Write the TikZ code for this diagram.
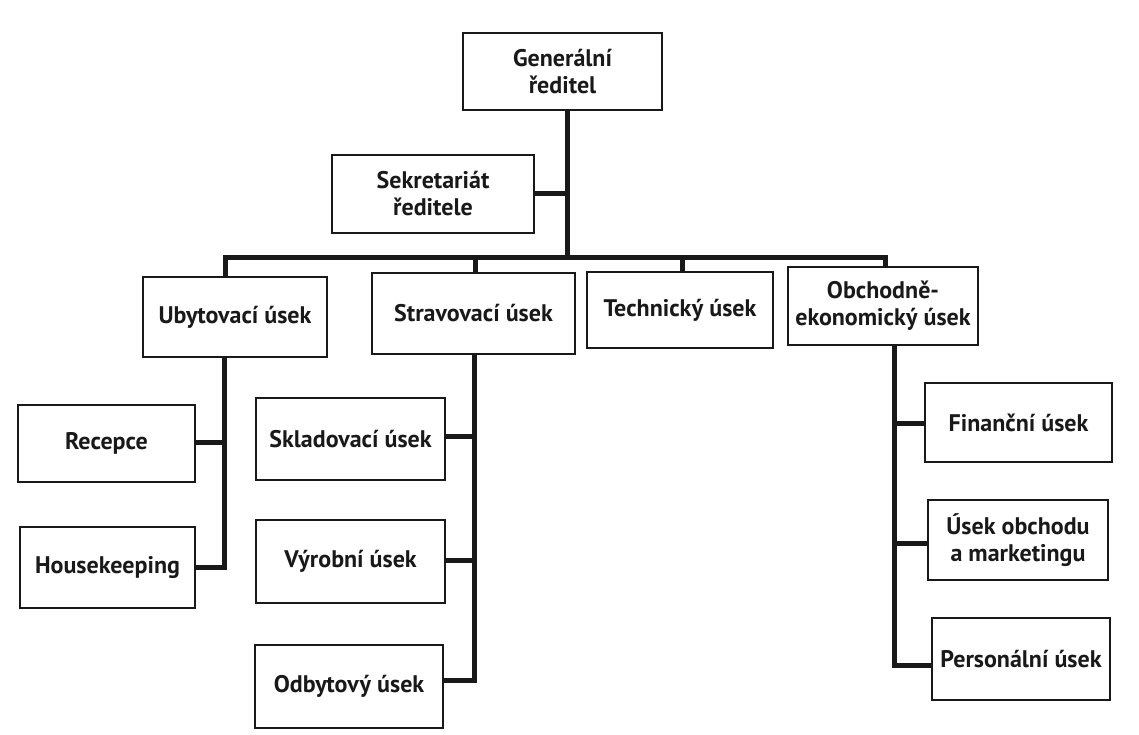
\documentclass[tikz,border=0pt]{standalone}
\usepackage{fontspec}
\setmainfont{PT Sans}
\begin{document}
\begin{tikzpicture}[x=1pt,y=-1pt,
  unit/.style={draw=black!90, line width=2.4pt, fill=white, inner sep=0pt,
    align=center, font=\bfseries\fontsize{24}{27}\selectfont, text=black!90},
  link/.style={draw=black!90, line width=5pt}]
\useasboundingbox (0,0) rectangle (1139,735);
% unit boxes: centre, width, height from the layout grid
\newcommand\orgbox[6]{\node[unit, minimum width=#4, minimum height=#5] (#1) at (#2,#3) {#6};}
\orgbox{gr}{562.5}{71.5}{199}{77}{Generální\\ředitel}
\orgbox{sek}{433}{194}{202}{78}{Sekretariát\\ředitele}
\orgbox{uby}{235}{317}{184}{80}{Ubytovací úsek}
\orgbox{stra}{473.5}{313.5}{203}{81}{Stravovací úsek}
\orgbox{tech}{680}{310}{186}{76}{Technický úsek}
\orgbox{obch}{883}{306}{190}{78}{Obchodně-\\ekonomický úsek}
\orgbox{rec}{106.5}{443.5}{177}{77}{Recepce}
\orgbox{hk}{107.5}{567.5}{175}{81}{Housekeeping}
\orgbox{skl}{350.5}{439}{189}{82}{Skladovací úsek}
\orgbox{vyr}{350.5}{561.5}{189}{83}{Výrobní úsek}
\orgbox{odb}{349}{686.5}{188}{83}{Odbytový úsek}
\orgbox{fin}{1018.5}{422.5}{187}{79}{Finanční úsek}
\orgbox{uom}{1018}{540}{180}{80}{Úsek obchodu\\a marketingu}
\orgbox{per}{1021}{659}{178}{82}{Personální úsek}
% bus levels and trunk positions
\coordinate (busL) at (225,257);
\coordinate (busR) at (885,257);
\coordinate (trunk) at (567,257);
% director trunk and secretariat branch
\draw[link] (gr.south -| trunk) -- (trunk);
\draw[link] (sek.east) -- (sek.east -| trunk);
% main bus and drops to divisions
\draw[link, line join=miter] (uby.north -| busL) -- (busL) -- (busR) -- (obch.north -| busR);
\draw[link] (stra.north -| 475,0) -- (475,257);
\draw[link] (tech.north -| 682,0) -- (682,257);
% accommodation branch
\draw[link, line join=miter] (uby.south -| 224,0) -- (224,567) -- (hk.east |- 0,567);
\draw[link] (rec.east |- 0,442) -- (224,442);
% catering branch
\draw[link, line join=miter] (stra.south -| 474,0) -- (474,680) -- (odb.east |- 0,680);
\draw[link] (skl.east |- 0,436) -- (474,436);
\draw[link] (vyr.east |- 0,560) -- (474,560);
% commercial-economic branch
\draw[link, line join=miter] (obch.south -| 894,0) -- (894,665) -- (per.west |- 0,665);
\draw[link] (fin.west |- 0,423) -- (894,423);
\draw[link] (uom.west |- 0,543) -- (894,543);
\end{tikzpicture}
\end{document}
